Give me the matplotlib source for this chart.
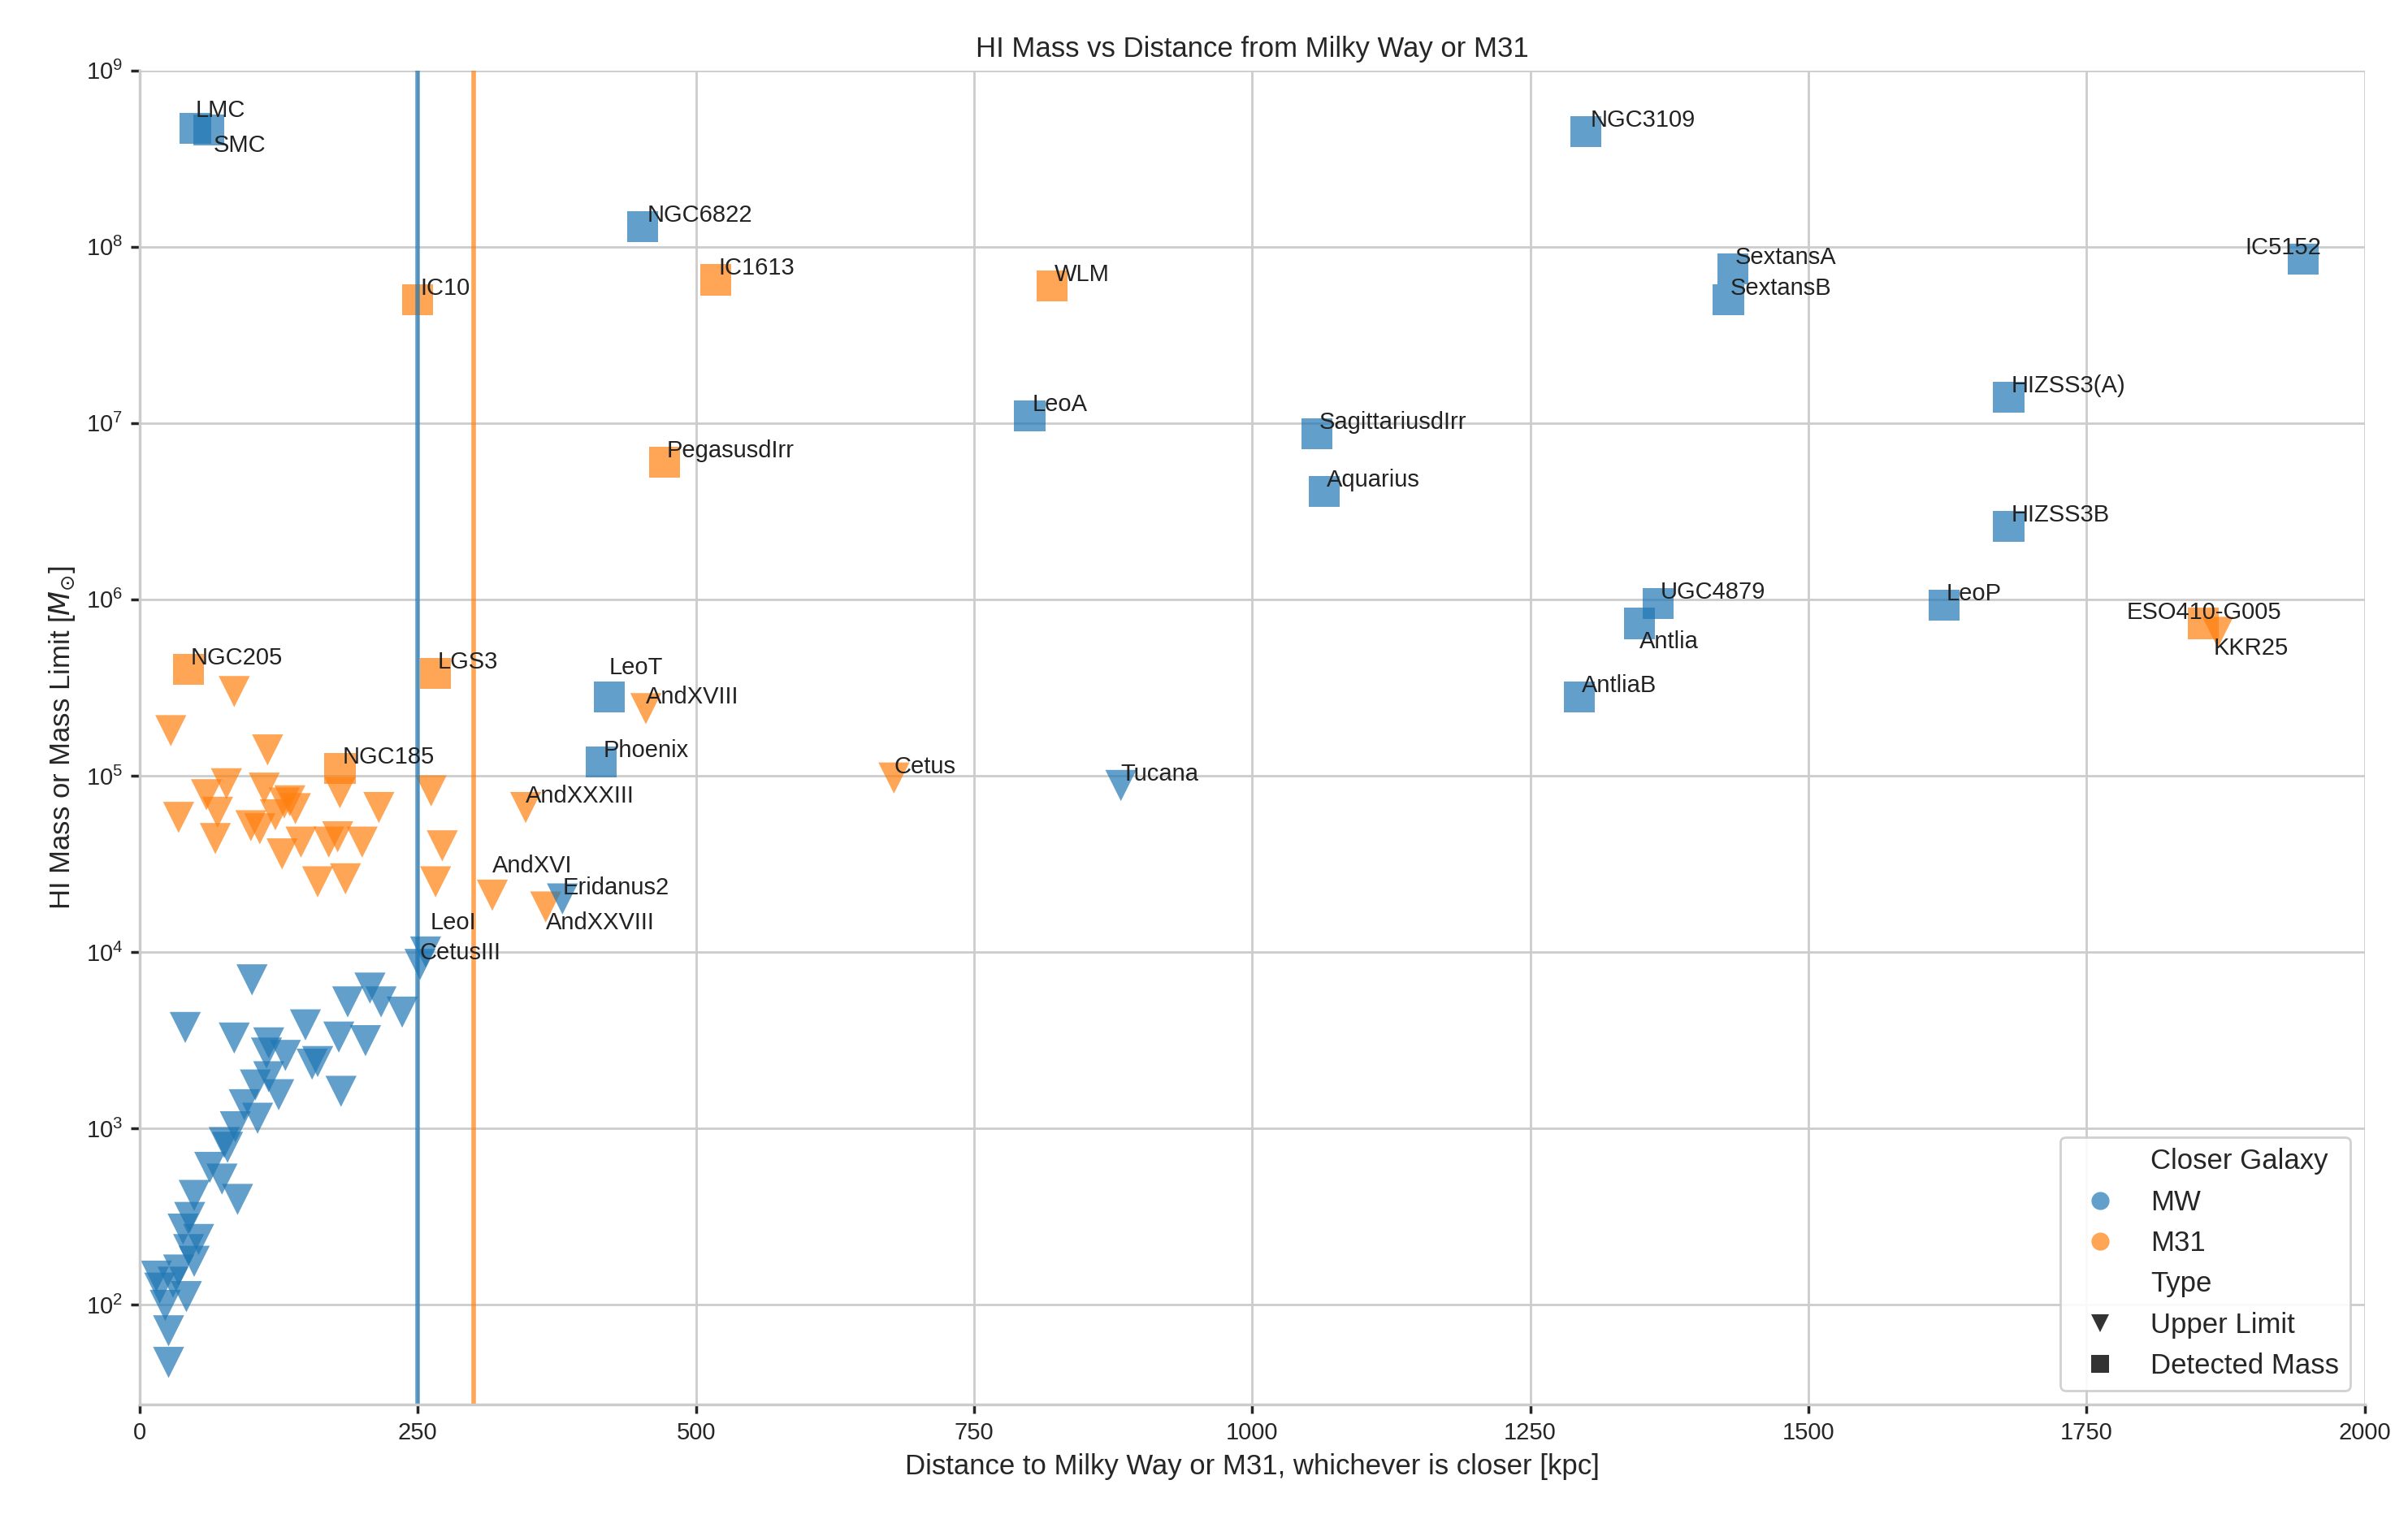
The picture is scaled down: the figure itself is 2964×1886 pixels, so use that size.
import matplotlib
matplotlib.use("Agg")
import matplotlib.pyplot as plt
import seaborn as sns
import pandas as pd

# named galaxies: name, distance kpc, HI mass, closer galaxy, type, label offset (pts), ha
named = [
    ("LMC", 50, 4.7e8, "MW", "Detected Mass", (0, 3), "left"),
    ("SMC", 62, 4.6e8, "MW", "Detected Mass", (2, -12), "left"),
    ("NGC3109", 1300, 4.5e8, "MW", "Detected Mass", (2, 0), "left"),
    ("NGC6822", 452, 1.3e8, "MW", "Detected Mass", (2, 0), "left"),
    ("IC5152", 1945, 8.5e7, "MW", "Detected Mass", (-26, 0), "left"),
    ("SextansA", 1432, 7.5e7, "MW", "Detected Mass", (1, 0), "left"),
    ("SextansB", 1428, 5.0e7, "MW", "Detected Mass", (1, 0), "left"),
    ("LeoA", 800, 1.1e7, "MW", "Detected Mass", (1, 0), "left"),
    ("SagittariusdIrr", 1058, 8.7e6, "MW", "Detected Mass", (1, 0), "left"),
    ("Aquarius", 1065, 4.1e6, "MW", "Detected Mass", (1, 0), "left"),
    ("HIZSS3(A)", 1680, 1.4e7, "MW", "Detected Mass", (1, 0), "left"),
    ("HIZSS3B", 1680, 2.6e6, "MW", "Detected Mass", (1, 0), "left"),
    ("UGC4879", 1365, 9.5e5, "MW", "Detected Mass", (1, 0), "left"),
    ("Antlia", 1348, 7.3e5, "MW", "Detected Mass", (0, -13), "left"),
    ("AntliaB", 1294, 2.8e5, "MW", "Detected Mass", (1, 0), "left"),
    ("LeoP", 1622, 9.3e5, "MW", "Detected Mass", (1, 0), "left"),
    ("LeoT", 422, 2.8e5, "MW", "Detected Mass", (0, 8), "left"),
    ("Phoenix", 415, 1.2e5, "MW", "Detected Mass", (1, 0), "left"),
    ("IC10", 250, 5.0e7, "M31", "Detected Mass", (1, 0), "left"),
    ("IC1613", 518, 6.5e7, "M31", "Detected Mass", (1, 0), "left"),
    ("WLM", 820, 6.0e7, "M31", "Detected Mass", (1, 0), "left"),
    ("PegasusdIrr", 472, 6.0e6, "M31", "Detected Mass", (1, 0), "left"),
    ("NGC205", 44, 4.0e5, "M31", "Detected Mass", (1, 0), "left"),
    ("LGS3", 266, 3.8e5, "M31", "Detected Mass", (1, 0), "left"),
    ("NGC185", 180, 1.1e5, "M31", "Detected Mass", (1, 0), "left"),
    ("ESO410-G005", 1855, 7.3e5, "M31", "Detected Mass", (-34, 0), "left"),
    ("KKR25", 1868, 6.5e5, "M31", "Upper Limit", (-2, -12), "left"),
    ("AndXVIII", 455, 2.4e5, "M31", "Upper Limit", (0, 0), "left"),
    ("Cetus", 678, 9.7e4, "M31", "Upper Limit", (0, 0), "left"),
    ("AndXXXIII", 347, 6.6e4, "M31", "Upper Limit", (0, 0), "left"),
    ("AndXVI", 317, 2.1e4, "M31", "Upper Limit", (0, 8), "left"),
    ("AndXXVIII", 365, 1.8e4, "M31", "Upper Limit", (0, -12), "left"),
    ("Tucana", 882, 8.8e4, "MW", "Upper Limit", (0, 0), "left"),
    ("Eridanus2", 380, 2.0e4, "MW", "Upper Limit", (0, 0), "left"),
    ("LeoI", 257, 1.0e4, "MW", "Upper Limit", (2, 8), "left"),
    ("CetusIII", 252, 8.5e3, "MW", "Upper Limit", (0, 0), "left"),
]

# unnamed upper limits near M31
m31_lim_x = [28, 85, 115, 35, 60, 70, 68, 78, 100, 108, 112, 122, 130, 135, 140,
             128, 145, 160, 170, 178, 185, 180, 200, 215, 262, 272, 266]
m31_lim_y = [1.8e5, 3.0e5, 1.4e5, 5.8e4, 7.8e4, 6.2e4, 4.4e4, 9e4, 5.2e4, 5e4,
             8.5e4, 6e4, 7e4, 7.2e4, 6.5e4, 3.6e4, 4.2e4, 2.5e4, 4.2e4, 4.5e4,
             2.6e4, 8e4, 4.2e4, 6.6e4, 8.2e4, 4e4, 2.5e4]

# unnamed upper limits near MW
mw_lim_x = [101, 41, 85, 116, 131, 149, 187, 207, 217, 236, 179, 203, 155, 160,
            181, 114, 116, 125, 104, 106, 94, 86, 79, 76, 63, 74, 88, 49, 45,
            53, 39, 44, 30, 42, 18, 26, 26, 23, 35, 15, 49]
mw_lim_y = [6950, 3730, 3250, 3050, 2590, 3860, 5210, 6240, 5210, 4560, 3290,
            3140, 2310, 2390, 1620, 2670, 1960, 1550, 1760, 1140, 1360, 1020,
            780, 830, 600, 515, 395, 416, 312, 234, 268, 205, 134, 111, 124,
            71, 47, 99, 157, 145, 176]

rows = [dict(dist=d, mass=m, closer=c, kind=k) for _, d, m, c, k, _, _ in named]
rows += [dict(dist=d, mass=m, closer="M31", kind="Upper Limit") for d, m in zip(m31_lim_x, m31_lim_y)]
rows += [dict(dist=d, mass=m, closer="MW", kind="Upper Limit") for d, m in zip(mw_lim_x, mw_lim_y)]
df = pd.DataFrame(rows)
df = df.rename(columns={"closer": "Closer Galaxy", "kind": "Type"})

sns.set_theme(style="whitegrid")
plt.rcParams["font.family"] = ["Liberation Sans", "DejaVu Sans"]

fig = plt.figure(figsize=(14.82, 9.43), dpi=200)
ax = fig.add_axes([0.058, 0.083, 0.924, 0.871])

sns.scatterplot(data=df, x="dist", y="mass", hue="Closer Galaxy", style="Type",
                hue_order=["MW", "M31"], style_order=["Upper Limit", "Detected Mass"],
                palette=["#1f77b4", "#ff7f0e"],
                markers={"Upper Limit": "v", "Detected Mass": "s"},
                s=190, alpha=0.7, linewidth=0, ax=ax)

ax.axvline(250, color="#1f77b4", lw=2, alpha=0.7)
ax.axvline(300, color="#ff7f0e", lw=2, alpha=0.7)

for name, d, m, c, k, off, ha in named:
    ax.annotate(name, (d, m), xytext=off, textcoords="offset points",
                ha=ha, va="bottom", fontsize=10.5, color="#222222")

ax.set_yscale("log")
ax.set_xlim(0, 2000)
ax.set_ylim(27, 1e9)
ax.set_xlabel("Distance to Milky Way or M31, whichever is closer [kpc]", fontsize=12.5)
ax.set_ylabel(r"HI Mass or Mass Limit [$M_{\odot}$]", fontsize=12.5)
ax.set_title("HI Mass vs Distance from Milky Way or M31", fontsize=12.5)
ax.tick_params(labelsize=10.5, left=True, bottom=True, length=4)
sns.despine(ax=ax)

handles, labels = ax.get_legend_handles_labels()
for h, lab in zip(handles, labels):
    if lab in ("MW", "M31"):
        h.set_marker("o")
    if lab in ("Upper Limit", "Detected Mass"):
        h.set_color("#222222")
        h.set_alpha(1)
    if hasattr(h, "set_markersize"):
        h.set_markersize(8)
ax.legend(handles, labels, loc="lower right", fontsize=12.5, framealpha=0.9)

fig.savefig("out.png", dpi=200)
